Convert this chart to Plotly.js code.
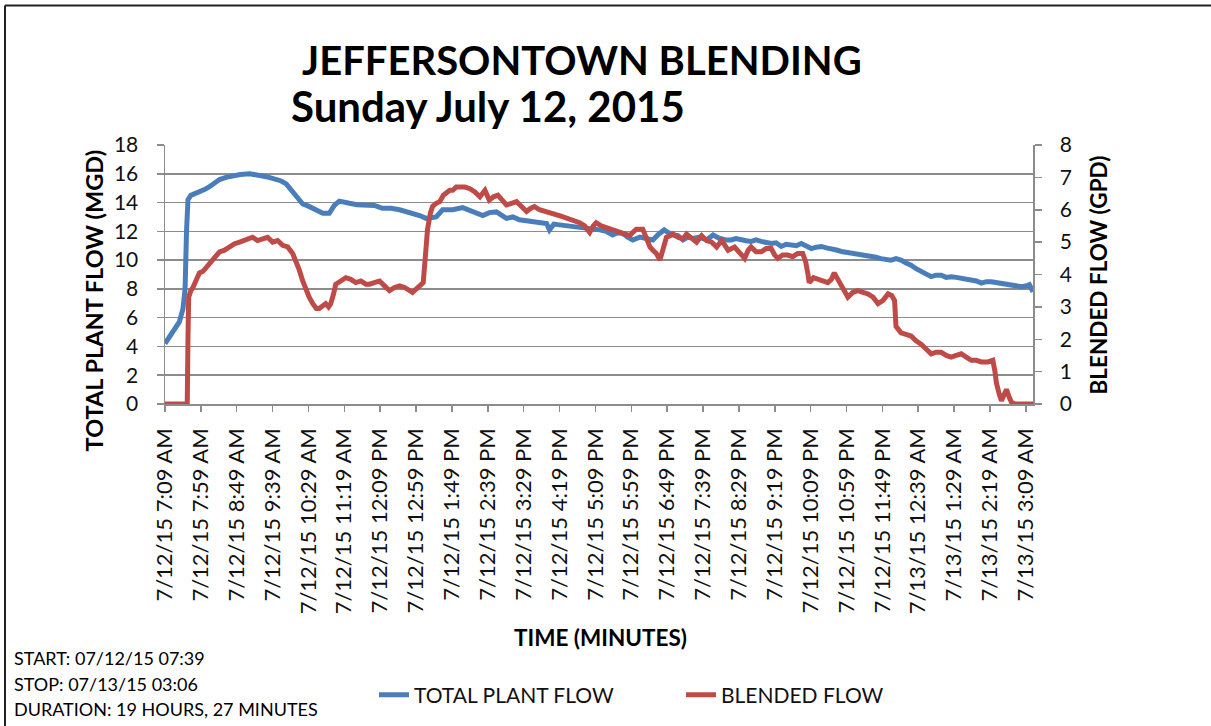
<!DOCTYPE html>
<html>
<head>
<meta charset="utf-8">
<script src="https://cdn.plot.ly/plotly-3.0.1.min.js"></script>
<style>
  html, body { margin: 0; padding: 0; background: #fff; }
  #chart { width: 1211px; height: 726px; }
</style>
</head>
<body>
<div id="chart"></div>
<script>
// ---- Data (minutes after 7/12/15 7:09 AM) ----
var tickMinutes = [0,50,100,150,200,250,300,350,400,450,500,550,600,650,700,750,800,850,900,950,1000,1050,1100,1150,1200];
var tickLabels = [
  "7/12/15 7:09 AM","7/12/15 7:59 AM","7/12/15 8:49 AM","7/12/15 9:39 AM","7/12/15 10:29 AM",
  "7/12/15 11:19 AM","7/12/15 12:09 PM","7/12/15 12:59 PM","7/12/15 1:49 PM","7/12/15 2:39 PM",
  "7/12/15 3:29 PM","7/12/15 4:19 PM","7/12/15 5:09 PM","7/12/15 5:59 PM","7/12/15 6:49 PM",
  "7/12/15 7:39 PM","7/12/15 8:29 PM","7/12/15 9:19 PM","7/12/15 10:09 PM","7/12/15 10:59 PM",
  "7/12/15 11:49 PM","7/13/15 12:39 AM","7/13/15 1:29 AM","7/13/15 2:19 AM","7/13/15 3:09 AM"
];

// TOTAL PLANT FLOW (MGD), left axis
var totalMin = [0,8,15,20,25,28,30,32,36,42,48,55,62,69,76,85,94,105,118,127,136,145,155,162,169,176,183,192,200,210,220,229,236,243,250,257,268,280,292,303,315,327,336,345,355,364,372,378,387,401,415,429,443,452,462,476,485,494,504,513,522,532,536,542,550,560,569,578,587,597,606,615,624,631,638,645,652,662,671,680,688,696,702,708,715,722,729,736,745,755,764,773,782,789,796,803,810,817,824,831,838,845,852,859,866,873,880,887,894,901,908,915,922,929,936,943,950,957,964,971,978,984,991,998,1005,1012,1019,1026,1033,1040,1047,1054,1061,1068,1075,1082,1089,1096,1103,1110,1117,1124,1131,1138,1145,1152,1159,1166,1173,1180,1187,1194,1200,1205,1210];
var totalFlow = [4.2,4.8,5.3,5.7,6.6,8.0,12.0,14.2,14.5,14.6,14.75,14.9,15.1,15.35,15.6,15.75,15.85,15.95,16.0,15.95,15.85,15.75,15.6,15.5,15.3,14.9,14.4,13.9,13.75,13.5,13.25,13.25,13.8,14.1,14.0,13.95,13.85,13.8,13.8,13.6,13.6,13.5,13.4,13.25,13.1,12.9,12.95,13.0,13.5,13.5,13.65,13.35,13.1,13.3,13.35,12.9,13.0,12.8,12.75,12.65,12.6,12.55,12.1,12.5,12.45,12.4,12.3,12.3,12.2,12.2,12.1,12.0,11.75,11.9,11.85,11.6,11.4,11.6,11.5,11.4,11.8,12.1,11.9,11.75,11.7,11.4,11.6,11.5,11.6,11.4,11.75,11.5,11.4,11.4,11.5,11.4,11.35,11.3,11.4,11.3,11.25,11.15,11.2,10.95,11.1,11.05,11.0,11.15,11.0,10.8,10.9,10.95,10.85,10.8,10.7,10.6,10.55,10.5,10.45,10.35,10.3,10.25,10.2,10.1,10.05,10.0,10.1,10.0,9.8,9.65,9.4,9.2,9.0,8.85,8.95,8.95,8.8,8.85,8.8,8.75,8.7,8.6,8.55,8.4,8.5,8.5,8.45,8.4,8.35,8.3,8.25,8.15,8.2,8.3,7.8];

// BLENDED FLOW (GPD), right axis
var blendMin = [0,31,32,33,36,39,44,48,53,57,62,66,71,76,83,90,97,104,111,118,122,129,136,143,150,157,164,171,178,183,187,192,197,201,206,211,215,220,224,228,231,235,238,245,252,259,266,273,280,285,292,299,306,313,320,327,334,340,345,350,355,360,362,364,366,370,373,378,383,388,392,397,401,406,411,418,425,432,439,446,452,458,464,470,476,483,490,497,504,510,515,522,532,538,545,552,559,566,572,578,585,592,597,601,608,615,622,628,634,641,648,652,657,666,671,676,680,685,690,694,699,704,708,715,722,727,734,741,748,755,762,769,776,785,794,801,808,813,817,824,831,838,845,850,854,861,868,875,882,889,893,896,898,904,910,917,924,929,933,938,943,948,952,959,966,973,980,987,994,1001,1008,1013,1017,1019,1022,1026,1033,1040,1047,1054,1061,1068,1075,1082,1089,1096,1103,1110,1117,1124,1131,1138,1147,1154,1157,1159,1163,1166,1170,1173,1177,1180,1185,1210];
var blendFlow = [0,0,2.0,3.3,3.5,3.6,3.85,4.05,4.1,4.2,4.35,4.45,4.6,4.7,4.75,4.85,4.95,5.0,5.05,5.1,5.15,5.05,5.1,5.15,5.0,5.05,4.9,4.85,4.65,4.4,4.15,3.8,3.5,3.3,3.1,2.95,2.95,3.05,3.1,3.0,3.1,3.4,3.7,3.8,3.9,3.85,3.75,3.8,3.7,3.7,3.75,3.8,3.65,3.5,3.6,3.65,3.6,3.5,3.45,3.55,3.65,3.75,4.3,5.0,5.4,5.9,6.1,6.2,6.25,6.45,6.5,6.6,6.6,6.7,6.7,6.7,6.65,6.55,6.4,6.6,6.3,6.4,6.45,6.3,6.15,6.2,6.25,6.1,5.95,6.05,6.1,6.0,5.95,5.9,5.85,5.8,5.75,5.7,5.65,5.6,5.5,5.3,5.5,5.6,5.5,5.45,5.4,5.35,5.3,5.25,5.2,5.3,5.4,5.4,5.1,4.85,4.75,4.65,4.45,4.8,5.15,5.2,5.25,5.15,5.1,5.25,5.1,5.0,5.2,5.05,5.0,4.85,5.05,4.75,4.85,4.7,4.5,4.75,4.85,4.7,4.7,4.8,4.8,4.6,4.5,4.6,4.6,4.55,4.65,4.65,4.4,4.05,3.75,3.9,3.85,3.8,3.75,3.85,4.05,3.85,3.65,3.5,3.3,3.45,3.5,3.45,3.4,3.3,3.1,3.2,3.4,3.35,3.2,2.4,2.3,2.2,2.15,2.1,1.95,1.85,1.7,1.55,1.6,1.6,1.5,1.45,1.5,1.55,1.45,1.35,1.35,1.3,1.3,1.35,1.0,0.65,0.3,0.1,0.3,0.45,0.2,0.05,0,0];

var notes = ["START: 07/12/15 07:39", "STOP: 07/13/15 03:06", "DURATION: 19 HOURS, 27 MINUTES"];

// ---- Layout helpers (pixel -> paper) ----
var L = 165, R = 1033, T = 145, B = 405;
function px(x) { return (x - L) / (R - L); }
function py(y) { return (B - y) / (B - T); }

var FONT = "Lato, 'Open Sans', sans-serif";
var AX = '#8c8c8c';

var traces = [
  { x: totalMin, y: totalFlow, type: 'scatter', mode: 'lines', name: 'TOTAL PLANT FLOW',
    line: { color: '#4a7ebb', width: 5 }, yaxis: 'y' },
  { x: blendMin, y: blendFlow, type: 'scatter', mode: 'lines', name: 'BLENDED FLOW',
    line: { color: '#be4b48', width: 5 }, yaxis: 'y2' }
];

var annotations = [
  { text: '<b>JEFFERSONTOWN BLENDING</b>', x: px(582), y: py(60), font: { size: 40, color: '#000', family: FONT } },
  { text: '<b>Sunday July 12, 2015</b>', x: px(488), y: py(106), font: { size: 42, color: '#000', family: FONT } },
  { text: '<b>TOTAL PLANT FLOW (MGD)</b>', x: px(94), y: py(301), textangle: -90, font: { size: 23.5, color: '#000', family: FONT } },
  { text: '<b>BLENDED FLOW (GPD)</b>', x: px(1098), y: py(276), textangle: -90, font: { size: 22.5, color: '#000', family: FONT } },
  { text: '<b>TIME (MINUTES)</b>', x: px(600), y: py(639), font: { size: 22.5, color: '#000', family: FONT } }
];
var noteY = [660, 686, 711];
notes.forEach(function (t, i) {
  annotations.push({ text: t, x: px(12), y: py(noteY[i]), xanchor: 'left',
    font: { size: 18, color: '#000', family: FONT } });
});
annotations.forEach(function (a) {
  a.xref = 'paper'; a.yref = 'paper'; a.showarrow = false;
  if (!a.xanchor) a.xanchor = 'center';
  a.yanchor = 'middle';
});

var layout = {
  width: 1211, height: 726,
  margin: { l: L, r: 1211 - R, t: T, b: 726 - B, pad: 0 },
  paper_bgcolor: '#fff', plot_bgcolor: '#fff',
  font: { family: FONT, color: '#111' },
  showlegend: true,
  legend: { orientation: 'h', x: px(374), xanchor: 'left', y: py(695), yanchor: 'middle',
    font: { size: 21, family: FONT, color: '#111' }, entrywidth: 262, entrywidthmode: 'pixels',
    bgcolor: 'rgba(0,0,0,0)' },
  xaxis: {
    range: [0, 1210], tickmode: 'array', tickvals: tickMinutes, ticktext: tickLabels,
    tickangle: -90, ticks: 'outside', ticklen: 6, tickcolor: AX, tickwidth: 1.5,
    showline: true, linecolor: AX, linewidth: 1.5, showgrid: false, zeroline: false,
    tickfont: { size: 22, family: FONT, color: '#111' }, ticklabelstandoff: 8, automargin: false
  },
  yaxis: {
    range: [0, 18], dtick: 2, tick0: 0, ticks: 'outside', ticklen: 7, tickcolor: AX, tickwidth: 1.5,
    showline: true, linecolor: AX, linewidth: 1.5, showgrid: true, gridcolor: AX, gridwidth: 1.5,
    zeroline: false, tickfont: { size: 21, family: FONT, color: '#111' }, ticklabelstandoff: 14,
    automargin: false
  },
  yaxis2: {
    range: [0, 8], dtick: 1, tick0: 0, overlaying: 'y', side: 'right', ticks: 'outside', ticklen: 7,
    tickcolor: AX, tickwidth: 1.5, showline: true, linecolor: AX, linewidth: 1.5, showgrid: false,
    zeroline: false, tickfont: { size: 21, family: FONT, color: '#111' }, ticklabelstandoff: 14,
    automargin: false
  },
  annotations: annotations,
  shapes: [
    { type: 'line', xref: 'paper', yref: 'paper', x0: px(5), x1: px(5), y0: py(5), y1: py(730),
      line: { color: '#222', width: 2 } },
    { type: 'line', xref: 'paper', yref: 'paper', x0: px(5), x1: px(1215), y0: py(5), y1: py(5),
      line: { color: '#222', width: 2 } }
  ]
};

Plotly.newPlot('chart', traces, layout, { staticPlot: true, displayModeBar: false });
</script>
</body>
</html>
